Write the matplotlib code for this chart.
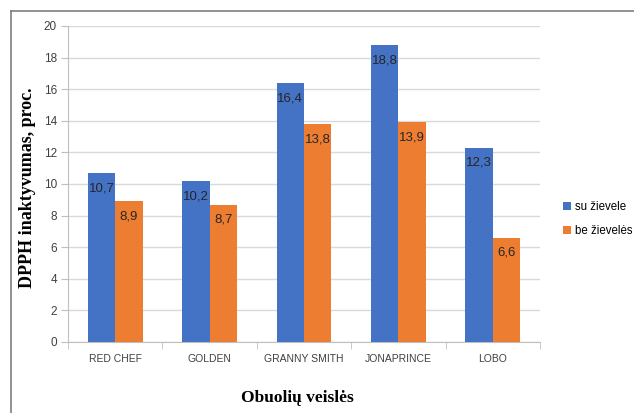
import numpy as np
import matplotlib.pyplot as plt
from matplotlib.lines import Line2D

# Data
varieties = ["RED CHEF", "GOLDEN", "GRANNY SMITH", "JONAPRINCE", "LOBO"]
with_peel = [10.7, 10.2, 16.4, 18.8, 12.3]
without_peel = [8.9, 8.7, 13.8, 13.9, 6.6]
series_names = ["su žievele", "be žievelės"]

W, H = 634, 413
fig = plt.figure(figsize=(W / 100, H / 100), dpi=100)
ax = fig.add_axes([68 / W, 1 - 342 / H, (540 - 68) / W, (342 - 26) / H])

x = np.arange(len(varieties))
bw = 0.29
b1 = ax.bar(x - bw / 2, with_peel, bw, color="#4472C4", label=series_names[0], zorder=3)
b2 = ax.bar(x + bw / 2, without_peel, bw, color="#ED7D31", label=series_names[1], zorder=3)

# value labels inside the top of each bar
for bars, vals in ((b1, with_peel), (b2, without_peel)):
    for r, v in zip(bars, vals):
        ax.annotate(f"{v:.1f}".replace(".", ","), (r.get_x() + r.get_width() / 2, v),
                    xytext=(0, -11), textcoords="offset points", ha="center", va="center",
                    fontsize=9.5, color="#262626", family="Liberation Sans", zorder=4)

ax.set_xlim(-0.5, len(varieties) - 0.5)
ax.set_ylim(0, 20)
ax.set_yticks(np.arange(0, 21, 2))
ax.set_xticks(x)
ax.set_xticklabels(varieties, fontsize=7.5, family="Liberation Sans", color="#404040")
ax.set_xticks(np.arange(-0.5, len(varieties)), minor=True)
ax.tick_params(axis="x", which="major", length=0, pad=9)
ax.tick_params(axis="x", which="minor", length=5, color="#BFBFBF")
ax.tick_params(axis="y", length=5, color="#BFBFBF", labelsize=8.5, labelcolor="#404040", pad=3)
for lab in ax.get_yticklabels():
    lab.set_family("Liberation Sans")

ax.yaxis.grid(True, color="#D9D9D9", linewidth=1, zorder=0)
for s in ("top", "right"):
    ax.spines[s].set_visible(False)
ax.spines["left"].set_color("#BFBFBF")
ax.spines["bottom"].set_color("#BFBFBF")

fig.text(28 / W, 1 - 188 / H, "DPPH inaktyvumas, proc.", rotation=90, ha="center", va="center",
         fontsize=13, fontweight="bold", family="Liberation Serif")
fig.text(297 / W, 1 - 398 / H, "Obuolių veislės", ha="center", va="center",
         fontsize=12.5, fontweight="bold", family="Liberation Serif")

leg = fig.legend(handles=[b1, b2], loc="center left", bbox_to_anchor=(553 / W, 1 - 219 / H),
                 frameon=False, handlelength=0.7, handleheight=0.7, handletextpad=0.35,
                 labelspacing=1.1, prop={"family": "Liberation Sans", "size": 8.3})

# outer border (top and left visible)
fig.add_artist(Line2D([11 / W, 1], [1 - 11 / H, 1 - 11 / H], color="#7F7F7F", lw=1.2))
fig.add_artist(Line2D([11 / W, 11 / W], [1 - 11 / H, 0], color="#7F7F7F", lw=1.2))

fig.savefig("out.png", dpi=100)
